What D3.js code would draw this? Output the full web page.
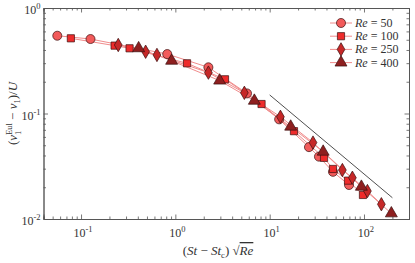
<!DOCTYPE html>
<html>
<head>
<meta charset="utf-8">
<script src="https://cdn.jsdelivr.net/npm/d3@7"></script>
<style>
  body { margin: 0; background: #fff; }
  svg { display: block; font-family: "Liberation Serif", "DejaVu Serif", serif; }
</style>
</head>
<body>
<div id="wrap"></div>
<script>
// data: [ (St-Stc)sqrt(Re), (v1Eul - v1)/U ]
var re50 = [
    [0.056, 0.546], [0.126, 0.508], [0.82, 0.366], [2.24, 0.274], [5.75, 0.155],
    [12.6, 0.088], [26.1, 0.048], [33.3, 0.039], [46.9, 0.028], [69.4, 0.021]
];
var re100 = [
    [0.078, 0.516], [0.227, 0.440], [0.327, 0.415], [1.33, 0.299], [3.36, 0.211],
    [8.2, 0.123], [18.1, 0.068], [37.7, 0.038], [46.9, 0.0298], [67.7, 0.0231], [97.5, 0.0169]
];
var re250 = [
    [0.248, 0.446], [0.484, 0.385], [0.638, 0.359], [2.24, 0.244], [5.39, 0.157],
    [13.0, 0.093], [28.8, 0.053], [59.0, 0.0291], [75.3, 0.0246], [108.7, 0.0184], [152.8, 0.0138]
];
var re400 = [
    [0.408, 0.415], [0.913, 0.316], [2.95, 0.205], [6.88, 0.132], [16.7, 0.075],
    [36.9, 0.0434], [93.8, 0.0202], [195, 0.0113]
];
var slopeLine = [[10, 0.15], [200, 0.0159]];

var seriesNames = ["50", "100", "250", "400"];
var seriesData = [re50, re100, re250, re400];
var seriesFill = ["#f25a5a", "#ee2b2b", "#c62828", "#8e1f1f"];
var seriesShape = [d3.symbolCircle, d3.symbolSquare, d3.symbolDiamond, d3.symbolTriangle];
var seriesSize = [64, 52, 52, 62];

var xMajor = [0.1, 1, 10, 100];
var yMajor = [0.01, 0.1, 1];

var W = 415, H = 263;
var m = { left: 43.5, right: 6, top: 8, bottom: 44 };

var svg = d3.select("#wrap").append("svg").attr("width", W).attr("height", H);

var x = d3.scaleLog().domain([0.04, 300]).range([m.left, W - m.right]);
var y = d3.scaleLog().domain([0.01, 1]).range([H - m.bottom, m.top]);

function minorTicks(lo, hi) {
    var out = [];
    for (var e = Math.floor(Math.log10(lo)); e <= Math.ceil(Math.log10(hi)); e++) {
        for (var k = 2; k <= 9; k++) {
            var v = k * Math.pow(10, e);
            if (v >= lo && v <= hi) out.push(v);
        }
    }
    return out;
}

var axisColor = "#555";

function drawAxis(g, axisFn, scale, major, minor) {
    g.call(axisFn(scale).tickValues(minor).tickSize(-2.5).tickFormat(""));
    g.append("g").call(axisFn(scale).tickValues(major).tickSize(-4.5).tickFormat(""));
    g.selectAll(".domain").attr("stroke", axisColor).attr("stroke-width", 0.9);
    g.selectAll(".tick line").attr("stroke", axisColor).attr("stroke-width", 0.8);
}

var x0 = x.range()[0], x1 = x.range()[1], y0 = y.range()[0], y1 = y.range()[1];

drawAxis(svg.append("g").attr("transform", "translate(0," + y0 + ")"), d3.axisBottom, x, xMajor, minorTicks(0.04, 300));
drawAxis(svg.append("g").attr("transform", "translate(0," + y1 + ")"), d3.axisTop, x, xMajor, minorTicks(0.04, 300));
drawAxis(svg.append("g").attr("transform", "translate(" + x0 + ",0)"), d3.axisLeft, y, yMajor, minorTicks(0.01, 1));
drawAxis(svg.append("g").attr("transform", "translate(" + x1 + ",0)"), d3.axisRight, y, yMajor, minorTicks(0.01, 1));

// tick labels 10^n
function expLabel(sel, v) {
    var e = Math.round(Math.log10(v));
    sel.append("tspan").text("10");
    sel.append("tspan").attr("dy", -5).attr("font-size", 8.5).text(e < 0 ? "-" + (-e) : e);
}

svg.selectAll(".xlab").data(xMajor).enter().append("text")
    .attr("class", "xlab")
    .attr("x", function(d) { return x(d) + 2; })
    .attr("y", y0 + 18)
    .attr("text-anchor", "middle")
    .attr("font-size", 12).attr("fill", "#333")
    .each(function(d) { expLabel(d3.select(this), d); });

svg.selectAll(".ylab").data(yMajor).enter().append("text")
    .attr("class", "ylab")
    .attr("x", x0 - 3)
    .attr("y", function(d) { return y(d) + 6; })
    .attr("text-anchor", "end")
    .attr("font-size", 12).attr("fill", "#333")
    .each(function(d) { expLabel(d3.select(this), d); });

// axis titles
var xt = svg.append("text")
    .attr("x", 218).attr("y", H - 8)
    .attr("text-anchor", "middle").attr("font-size", 13).attr("fill", "#333");
xt.append("tspan").text("(");
xt.append("tspan").attr("font-style", "italic").text("St");
xt.append("tspan").text(" \u2212 ");
xt.append("tspan").attr("font-style", "italic").text("St");
xt.append("tspan").attr("font-size", 8.5).attr("dy", 2.5).text("c");
xt.append("tspan").attr("dy", -2.5).text(") \u221A");
xt.append("tspan").attr("font-style", "italic").attr("text-decoration", "overline").text("Re");

var yt = svg.append("text")
    .attr("transform", "translate(17," + ((y0 + y1) / 2) + ") rotate(-90)")
    .attr("text-anchor", "middle").attr("font-size", 13).attr("fill", "#333");
yt.append("tspan").text("(");
yt.append("tspan").attr("font-style", "italic").text("v");
var sup = yt.append("tspan").attr("font-size", 8.5).attr("dy", -5.5).text("Eul");
var supW = sup.node().getComputedTextLength();
var sub = yt.append("tspan").attr("font-size", 8.5).attr("dx", -supW).attr("dy", 9).text("1");
var subW = sub.node().getComputedTextLength();
yt.append("tspan").attr("dx", supW - subW).attr("dy", -3.5).text(" \u2212 ");
yt.append("tspan").attr("font-style", "italic").text("v");
yt.append("tspan").attr("font-size", 8.5).attr("dy", 3).text("1");
yt.append("tspan").attr("dy", -3).text(")/");
yt.append("tspan").attr("font-style", "italic").text("U");

// plot area
var plot = svg.append("g");

var line = d3.line()
    .x(function(d) { return x(d[0]); })
    .y(function(d) { return y(d[1]); });

plot.selectAll(".conn").data(seriesData).enter().append("path")
    .attr("class", "conn")
    .attr("d", function(d) { return line(d); })
    .attr("fill", "none")
    .attr("stroke", "#f08c8c")
    .attr("stroke-width", 1);

plot.append("path")
    .attr("d", line(slopeLine))
    .attr("fill", "none")
    .attr("stroke", "#222")
    .attr("stroke-width", 0.8);

seriesData.forEach(function(data, si) {
    plot.selectAll(".pt" + si).data(data).enter().append("path")
        .attr("class", "pt" + si)
        .attr("transform", function(d) { return "translate(" + x(d[0]) + "," + y(d[1]) + ")"; })
        .attr("d", d3.symbol().type(seriesShape[si]).size(seriesSize[si]))
        .attr("fill", seriesFill[si])
        .attr("stroke", "#3a1010")
        .attr("stroke-width", 0.7);
});

// legend
var legend = svg.append("g").attr("transform", "translate(330,23)");
seriesNames.forEach(function(name, i) {
    var row = legend.append("g").attr("transform", "translate(0," + (i * 13.2) + ")");
    row.append("line").attr("x1", 0).attr("x2", 22).attr("y1", 0).attr("y2", 0)
        .attr("stroke", "#f08c8c").attr("stroke-width", 1);
    row.append("path")
        .attr("transform", "translate(11,0)")
        .attr("d", d3.symbol().type(seriesShape[i]).size(seriesSize[i]))
        .attr("fill", seriesFill[i]).attr("stroke", "#3a1010").attr("stroke-width", 0.7);
    var t = row.append("text").attr("x", 25).attr("y", 4)
        .attr("font-size", 12).attr("fill", "#333");
    t.append("tspan").attr("font-style", "italic").text("Re");
    t.append("tspan").text(" = " + name);
});
</script>
</body>
</html>
